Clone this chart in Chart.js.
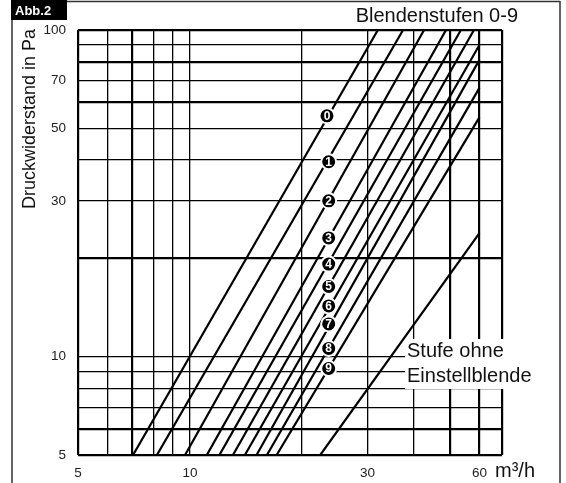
<!DOCTYPE html>
<html>
<head>
<meta charset="utf-8">
<script src="https://cdn.jsdelivr.net/npm/chart.js@4.4.1/dist/chart.umd.min.js"></script>
<style>
  html, body { margin: 0; padding: 0; background: #fff; }
  canvas { display: block; }
</style>
</head>
<body>
<canvas id="chart" width="566" height="483"></canvas>
<script>
// Abb.2 - Druckwiderstand je Blendenstufe (log-log)
const FONT = "'Liberation Sans', Arial, Helvetica, sans-serif";

// grid + tick values
const xGrid = [5, 6, 7, 8, 9, 10, 20, 30, 40, 50, 60, 69];
const xTickLabels = [5, 10, 30, 60];
const yGrid = [5, 6, 7, 8, 9, 10, 20, 30, 40, 50, 60, 70, 80, 90, 100];
const yTickLabels = [5, 10, 30, 50, 70, 100];
const xThick = [5, 7, 50, 60, 69];
const yThick = [5, 6, 20, 60, 80, 100];

// Blendenstufen 0-9: start / end of each characteristic line (m3/h, Pa)
const stepNames = ["0", "1", "2", "3", "4", "5", "6", "7", "8", "9"];
const startFlow = [7.03, 8.15, 9.7, 11.1, 12.0, 13.05, 14.05, 15.1, 16.1, 17.1];
const startPressure = [5, 5, 5, 5, 5, 5, 5, 5, 5, 5];
const endFlow = [32.0, 37.4, 42.6, 48.8, 53.5, 58.0, 60, 60, 60, 60];
const endPressure = [100, 100, 100, 100, 100, 100, 90, 81, 66.5, 54];

// where the circled numbers sit
const labelFlow = [23.35, 23.6, 23.6, 23.6, 23.6, 23.6, 23.6, 23.6, 23.6, 23.6];
const labelPressure = [54.6, 39.5, 30, 23.1, 19.2, 16.4, 14.3, 12.6, 10.6, 9.2];

// Stufe ohne Einstellblende
const openFlow = [22.4, 60];
const openPressure = [5, 23.9];

const datasets = stepNames.map((name, i) => ({
  label: "Stufe " + name,
  data: [
    { x: startFlow[i], y: startPressure[i] },
    { x: endFlow[i], y: endPressure[i] }
  ],
  borderColor: "#000",
  borderWidth: 2.2,
  pointRadius: 0,
  fill: false
}));
datasets.push({
  label: "Stufe ohne Einstellblende",
  data: openFlow.map((v, i) => ({ x: v, y: openPressure[i] })),
  borderColor: "#000",
  borderWidth: 2.2,
  pointRadius: 0,
  fill: false
});

const decor = {
  id: "decor",
  beforeDraw(chart) {
    const c = chart.ctx;
    c.save();
    c.fillStyle = "#fff";
    c.fillRect(0, 0, chart.width, chart.height);
    c.restore();
  },
  afterDatasetsDraw(chart) {
    const c = chart.ctx;
    const xs = chart.scales.x, ys = chart.scales.y;
    c.save();
    stepNames.forEach((name, i) => {
      const px = xs.getPixelForValue(labelFlow[i]);
      const py = ys.getPixelForValue(labelPressure[i]);
      c.beginPath();
      c.arc(px, py, 7.5, 0, Math.PI * 2);
      c.fillStyle = "#000";
      c.fill();
      c.lineWidth = 2;
      c.strokeStyle = "#fff";
      c.stroke();
      c.fillStyle = "#fff";
      c.font = "bold 12px " + FONT;
      c.textAlign = "center";
      c.textBaseline = "middle";
      c.fillText(name, px, py + 0.5);
    });
    c.restore();
  },
  afterDraw(chart) {
    const c = chart.ctx;
    c.save();
    // frame
    c.strokeStyle = "#333";
    c.lineWidth = 1.5;
    c.beginPath();
    c.moveTo(12, 20); c.lineTo(12, 483);
    c.moveTo(66, 1.5); c.lineTo(560, 1.5);
    c.moveTo(560, 1); c.lineTo(560, 483);
    c.stroke();

    // Abb.2 tag
    c.fillStyle = "#000";
    c.fillRect(11, 0, 56, 20);
    c.fillStyle = "#fff";
    c.font = "bold 13px " + FONT;
    c.textAlign = "left";
    c.textBaseline = "alphabetic";
    c.fillText("Abb.2", 15, 15);

    c.fillStyle = "#111";
    c.font = "20px " + FONT;
    c.textAlign = "right";
    c.fillText("Blendenstufen 0-9", 518, 22);

    // box for Stufe ohne Einstellblende
    c.fillStyle = "#fff";
    c.fillRect(405, 339, 134, 50);
    c.fillStyle = "#111";
    c.textAlign = "left";
    c.fillText("Stufe ohne", 407, 357);
    c.fillText("Einstellblende", 407, 382);

    c.fillText("m³/h", 495, 477);

    // y title
    c.translate(30, 119);
    c.rotate(-Math.PI / 2);
    c.textAlign = "center";
    c.textBaseline = "middle";
    c.font = "18px " + FONT;
    c.fillText("Druckwiderstand in Pa", 0, 0);
    c.restore();
  }
};

new Chart(document.getElementById("chart"), {
  type: "line",
  data: { datasets },
  options: {
    responsive: false,
    animation: false,
    devicePixelRatio: 1,
    layout: { padding: { left: 0, right: 64, top: 30, bottom: 0 } },
    plugins: { legend: { display: false }, tooltip: { enabled: false } },
    scales: {
      x: {
        type: "logarithmic",
        min: 5, max: 69,
        afterBuildTicks: s => { s.ticks = xGrid.map(v => ({ value: v })); },
        afterFit: s => { s.height = 28; },
        ticks: {
          autoSkip: false, maxRotation: 0, padding: 10,
          color: "#222", font: { family: FONT, size: 13.5 },
          callback: v => xTickLabels.includes(v) ? String(v) : ""
        },
        grid: {
          color: "#000", drawTicks: false,
          lineWidth: ctx => xThick.includes(ctx.tick?.value) ? 2.2 : 1.3
        },
        border: { display: false }
      },
      y: {
        type: "logarithmic",
        min: 5, max: 100,
        afterBuildTicks: s => { s.ticks = yGrid.map(v => ({ value: v })); },
        afterFit: s => { s.width = 78; },
        ticks: {
          autoSkip: false, padding: 12,
          color: "#222", font: { family: FONT, size: 13.5 },
          callback: v => yTickLabels.includes(v) ? String(v) : ""
        },
        grid: {
          color: "#000", drawTicks: false,
          lineWidth: ctx => yThick.includes(ctx.tick?.value) ? 2.2 : 1.3
        },
        border: { display: false }
      }
    }
  },
  plugins: [decor]
});
</script>
</body>
</html>
